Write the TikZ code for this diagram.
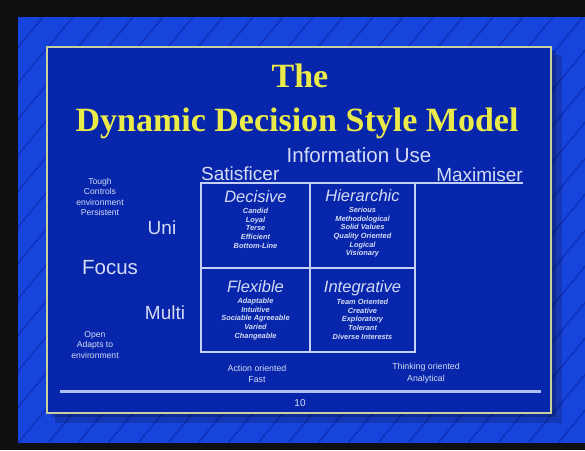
\documentclass[tikz,border=0pt]{standalone}
\usepackage{fontspec}
\setmainfont{Liberation Serif}
\setsansfont{Liberation Sans}
\usetikzlibrary{positioning}
\pgfdeclarelayer{background}
\pgfsetlayers{background,main}

\definecolor{slideblue}{RGB}{24,68,222}
\definecolor{stripeblue}{RGB}{16,50,188}
\definecolor{panelblue}{RGB}{8,38,172}
\definecolor{rimyellow}{RGB}{200,208,160}
\definecolor{titleyellow}{RGB}{234,234,72}
\definecolor{paletext}{RGB}{212,220,244}
\definecolor{gridline}{RGB}{196,208,248}
\definecolor{rulelight}{RGB}{172,192,246}

\newcommand\stylehead[1]{{\fontsize{16.5}{17}\selectfont\mdseries\itshape #1}\\[2.5pt]}

\begin{document}
\begin{tikzpicture}[x=1pt,y=-1pt,
					plain/.style={text=paletext, font=\sffamily, inner sep=0pt, align=center},
					small/.style={plain, font=\sffamily\fontsize{8.6}{10.2}\selectfont},
					big/.style={plain, font=\sffamily\fontsize{19}{20}\selectfont},
					heading/.style={text=titleyellow, font=\bfseries\fontsize{34}{36}\selectfont, inner sep=0pt},
					cell/.style={draw=gridline, line width=1.3pt, inner sep=0pt, outer sep=0pt},
					celltext/.style={plain, font=\sffamily\bfseries\itshape\fontsize{7.4}{8.7}\selectfont},
					]
					\useasboundingbox (0,0) rectangle (585,450);
					
					\begin{pgfonlayer}{background}
					%Slide and stripes
					\fill[black!94] (0,0) rectangle (585,450);
					\fill[slideblue] (18,17) rectangle (585,443);
					\begin{scope}
						\clip (18,17) rectangle (585,443);
						\foreach \i in {-16,...,20}
							\draw[stripeblue, line width=1.6pt] (18+30*\i,443) -- ++(380,-456);
					\end{scope}
					\end{pgfonlayer}
					
					%Panel
					\fill[black, opacity=0.18] (55,55) rectangle (562,423);
					\fill[black, opacity=0.18] (51,51) rectangle (556,417);
					\fill[panelblue] (47,47) rectangle (551,413);
					\draw[rimyellow, line width=2pt] (47,47) rectangle (551,413);
					
					%Title
					\node[heading, anchor=base] (the)   at (300,87)  {The};
					\node[heading, anchor=base] (title) at (297,131) {Dynamic Decision Style Model};
					
					%Axis labels
					\node[big, font=\sffamily\fontsize{20.5}{22}\selectfont, anchor=base] (info) at (359,162) {Information Use};
					\node[big, anchor=base west] (sat) at (201,180) {Satisficer};
					\node[big, anchor=base east] (max) at (523,181) {Maximiser};
					\node[small] (tough) at (100,197) {Tough\\Controls\\environment\\Persistent};
					\node[big] (uni)   at (162,228) {Uni};
					\node[big, font=\sffamily\fontsize{20.5}{22}\selectfont] (focus) at (110,268) {Focus};
					\node[big] (multi) at (165,313) {Multi};
					\node[small] (open) at (95,345) {Open\\Adapts to\\environment};
					
					%Grid
					\node[cell, minimum width=109, minimum height=85] (dec) at (255.5,225.5) {};
					\node[cell, minimum width=105, minimum height=85, right=0pt of dec] (hie) {};
					\node[cell, minimum width=109, minimum height=84, below=0pt of dec] (fle) {};
					\node[cell, minimum width=105, minimum height=84, right=0pt of fle] (int) {};
					\coordinate (maxend) at (523,183);
					\draw[gridline, line width=1.3pt] (hie.north east) -- (maxend);
					
					%Cell texts
					\node[celltext, below=7pt of dec.north] (dectxt) {\stylehead{Decisive}Candid\\Loyal\\Terse\\Efficient\\Bottom-Line};
					\node[celltext, below=6pt of hie.north] (hietxt) {\stylehead{Hierarchic}Serious\\Methodological\\Solid Values\\Quality Oriented\\Logical\\Visionary};
					\node[celltext, below=12pt of fle.north] (fletxt) {\stylehead{Flexible}Adaptable\\Intuitive\\Sociable Agreeable\\Varied\\Changeable};
					\node[celltext, below=12pt of int.north] (inttxt) {\stylehead{Integrative}Team Oriented\\Creative\\Exploratory\\Tolerant\\Diverse Interests};
					
					%Footer
					\node[small, font=\sffamily\fontsize{8.8}{11.5}\selectfont] (action) at (257,374) {Action oriented\\Fast};
					\node[small, font=\sffamily\fontsize{8.8}{11.5}\selectfont] (think)  at (426,373) {Thinking oriented\\Analytical};
					\coordinate (rulel) at (60,391);
					\coordinate (ruler) at (541,391);
					\draw[rulelight, line width=3pt] (rulel) -- (ruler);
					\node[small, font=\sffamily\fontsize{10}{11}\selectfont] (page) at (300,403) {10};
				\end{tikzpicture}
\end{document}
